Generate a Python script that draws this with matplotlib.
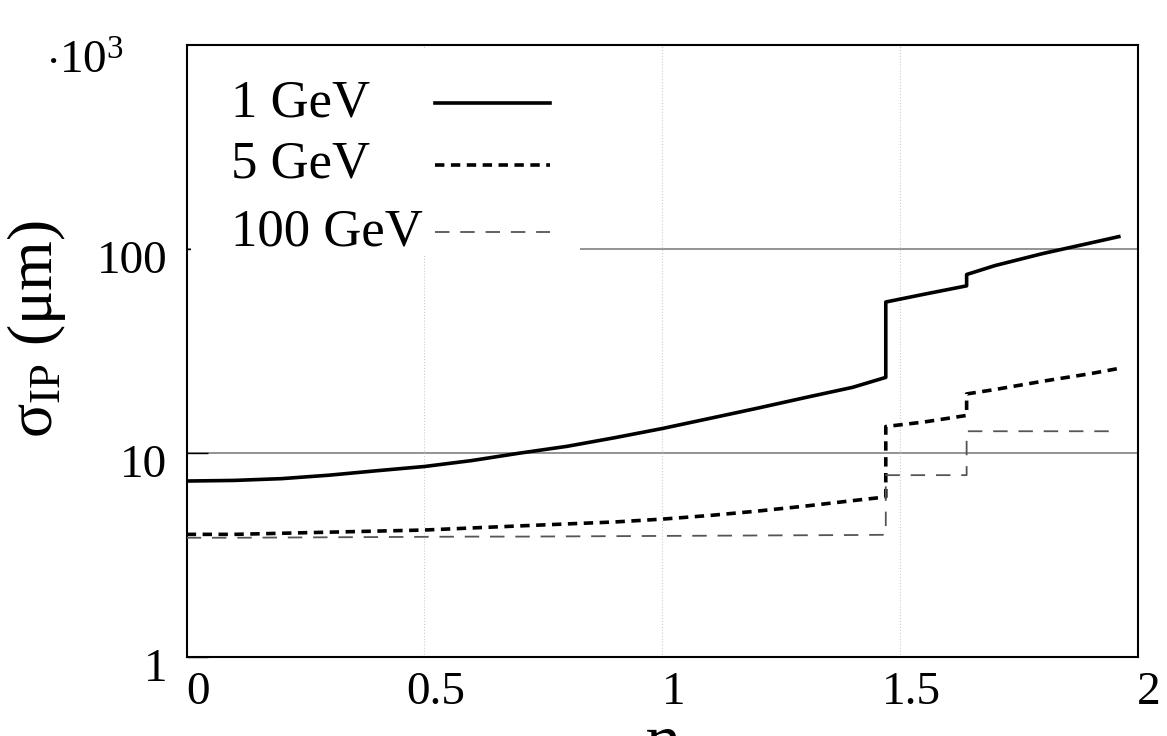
import matplotlib
matplotlib.use("Agg")
from matplotlib import pyplot as plt
from matplotlib.lines import Line2D
from matplotlib.patches import Rectangle
from matplotlib.transforms import ScaledTranslation

plt.rcParams['font.family'] = ['Liberation Serif', 'DejaVu Serif']
plt.rcParams['mathtext.fontset'] = 'custom'
plt.rcParams['mathtext.rm'] = 'Liberation Serif'
plt.rcParams['mathtext.it'] = 'Liberation Serif:italic'

# eta values (repeated eta = vertical step)
eta = [0.0, 0.1, 0.2, 0.3, 0.4, 0.5, 0.6, 0.7, 0.8, 0.9, 1.0, 1.1, 1.2, 1.3, 1.4,
       1.47, 1.47, 1.55, 1.64, 1.64, 1.7, 1.8, 1.9, 1.96]

sigma_1gev = [7.3, 7.35, 7.5, 7.8, 8.2, 8.6, 9.2, 10.0, 10.8, 11.9, 13.2, 14.8, 16.6, 18.7, 21.0,
              23.5, 55.0, 60.0, 66.0, 75.0, 83.0, 95.0, 107.0, 115.0]
sigma_5gev = [4.0, 4.0, 4.05, 4.1, 4.15, 4.2, 4.3, 4.4, 4.5, 4.6, 4.75, 4.95, 5.2, 5.5, 5.85,
              6.1, 13.5, 14.2, 15.3, 19.5, 20.5, 22.5, 24.5, 26.0]
sigma_100gev = [3.85, 3.85, 3.86, 3.87, 3.88, 3.89, 3.9, 3.9, 3.91, 3.92, 3.93, 3.94, 3.95, 3.96, 3.97,
                3.98, 7.8, 7.8, 7.8, 12.8, 12.8, 12.8, 12.8, 12.8]

labels = ['1 GeV', '5 GeV', '100 GeV']
xticks = [0, 0.5, 1, 1.5, 2]
xtick_labels = ['0', '0.5', '1', '1.5', '2']
yticks = [1, 10, 100]
ytick_labels = ['1', '10', '100']

fig = plt.figure(figsize=(11.67, 7.36), dpi=100)
ax = fig.add_axes([0.160, 0.107, 0.815, 0.832])

styles = [
    dict(color='black', lw=2.6, ls='-'),
    dict(color='black', lw=2.6, ls=(0, (2.6, 1.8))),
    dict(color='#555555', lw=1.3, ls=(0, (8, 6))),
]

for ys, st in zip([sigma_1gev, sigma_5gev, sigma_100gev], styles):
    ax.plot(eta, ys, zorder=3, **st)

ax.set_yscale('log')
ax.set_xlim(0, 2)
ax.set_ylim(1, 1000)

# grid
for y in [10, 100]:
    ax.axhline(y, color='#777777', lw=1.1, zorder=1)
for x in [0.5, 1, 1.5]:
    ax.axvline(x, color='#cccccc', lw=0.8, ls=':', zorder=1)

ax.set_xticks(xticks)
ax.set_xticklabels(xtick_labels, fontsize=34)
ax.set_yticks(yticks)
ax.set_yticklabels(ytick_labels, fontsize=34)
ax.minorticks_off()
ax.tick_params(axis='x', length=0, pad=10)
ax.tick_params(axis='y', direction='in', length=15, width=1.0, pad=14)

off_x = ScaledTranslation(11 / 100, 0, fig.dpi_scale_trans)
for lab in ax.get_xticklabels():
    lab.set_transform(lab.get_transform() + off_x)
off_y = ScaledTranslation(0, -8 / 100, fig.dpi_scale_trans)
for lab in ax.get_yticklabels():
    lab.set_transform(lab.get_transform() + off_y)

for sp in ax.spines.values():
    sp.set_linewidth(1.5)

# legend drawn by hand: left-aligned text, handles after it
ax.add_patch(Rectangle((0.004, 0.655), 0.41, 0.34, transform=ax.transAxes,
                       facecolor='white', edgecolor='none', zorder=2))
rows_y = [0.905, 0.804, 0.694]
for lab, st, yy in zip(labels, styles, rows_y):
    ax.text(0.047, yy, lab, transform=ax.transAxes, fontsize=38,
            va='center', ha='left', zorder=4)
    ax.add_line(Line2D([0.261, 0.382], [yy, yy], transform=ax.transAxes, zorder=4, **st))

ax.set_ylabel(r'$\mathrm{σ}_{\mathrm{IP}}$ (μm)', fontsize=46)
ax.yaxis.set_label_coords(-0.125, 0.535)
fig.text(662 / 1167, 0.026, r'$\mathrm{η}$', fontsize=48, ha='center', va='top')
fig.text(46 / 1167, 1 - 62 / 736, r'$\cdot 10^{3}$', fontsize=34, ha='left', va='center')

fig.savefig('out.png', dpi=100)
